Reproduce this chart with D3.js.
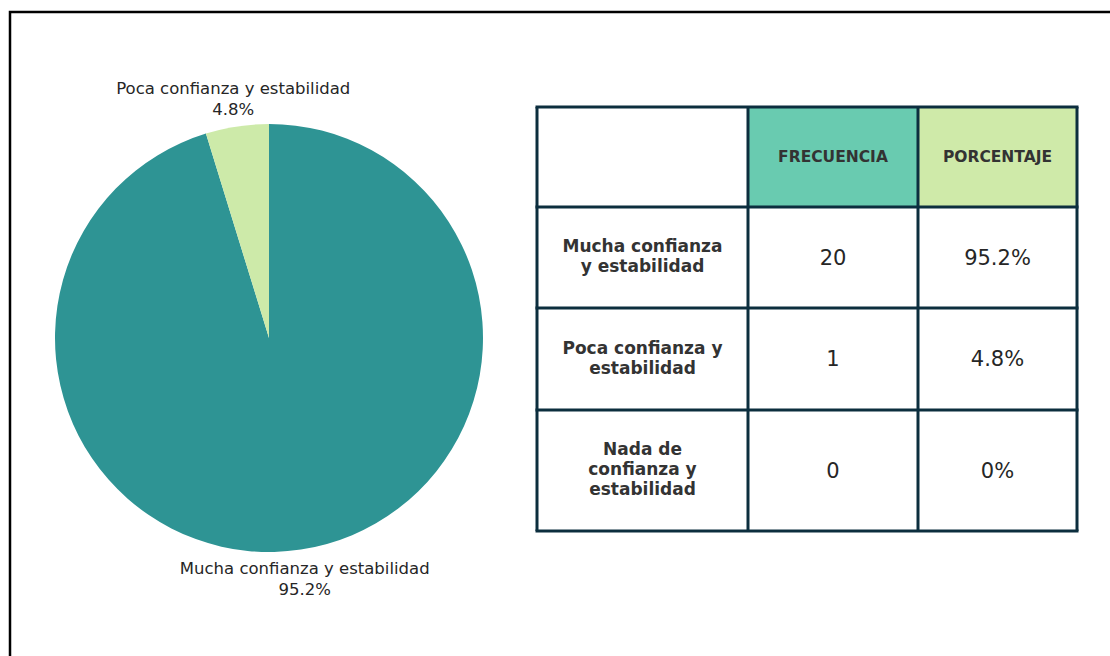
<!DOCTYPE html>
<html>
<head>
<meta charset="utf-8">
<script src="https://cdn.jsdelivr.net/npm/d3@7"></script>
<style>
  body { margin: 0; background: #fff; }
  text { font-family: "DejaVu Sans", sans-serif; fill: #262626; }
</style>
</head>
<body>
<svg id="chart" width="1110" height="656"></svg>
<script>
// data
var categories = ["Mucha confianza y estabilidad", "Poca confianza y estabilidad", "Nada de confianza y estabilidad"];
var tableLabels = [["Mucha confianza", "y estabilidad"], ["Poca confianza y", "estabilidad"], ["Nada de", "confianza y", "estabilidad"]];
var frequencies = [20, 1, 0];
var percentLabels = ["95.2%", "4.8%", "0%"];
var headers = ["", "FRECUENCIA", "PORCENTAJE"];
var sliceColors = ["#2e9494", "#cdeaa9", "#69cbb0"];
var headerFills = ["#ffffff", "#69cbb0", "#cfeaa9"];

var svg = d3.select("#chart");

// outer frame (right and bottom edges run off the picture)
svg.append("rect")
    .attr("x", 10).attr("y", 12)
    .attr("width", 1200).attr("height", 700)
    .attr("fill", "none").attr("stroke", "#000").attr("stroke-width", 2.5);

// pie
var cx = 269, cy = 338, radius = 214;
var pie = d3.pie().sort(null).value(function(d) { return d; });
var arc = d3.arc().innerRadius(0).outerRadius(radius);
var arcs = pie(frequencies);

var pieG = svg.append("g").attr("transform", "translate(" + cx + "," + cy + ")");
pieG.selectAll("path")
    .data(arcs)
    .enter().append("path")
    .attr("d", arc)
    .attr("fill", function(d, i) { return sliceColors[i]; });

// outside labels, above or below the pie
var labels = pieG.selectAll(".lbl")
    .data(arcs.filter(function(d) { return d.value > 0; }))
    .enter().append("text")
    .attr("class", "lbl")
    .attr("text-anchor", "middle")
    .style("font-size", "16.5px");

labels.each(function(d) {
    var mid = (d.startAngle + d.endAngle) / 2;
    var x = Math.sin(mid) * radius * 1.12;
    var top = Math.cos(mid) > 0;
    var y1 = top ? -radius - 36 : radius + 16;
    var t = d3.select(this);
    t.append("tspan").attr("x", x).attr("y", y1).attr("dy", "0.35em").text(categories[d.index]);
    t.append("tspan").attr("x", x).attr("y", y1 + 21).attr("dy", "0.35em").text(percentLabels[d.index]);
});

// table
var colX = [537, 748, 918, 1077];
var rowY = [107, 207, 308, 410, 531];
var stroke = "#0c2e3e";
var table = svg.append("g");

// header cells
headers.forEach(function(h, c) {
    table.append("rect")
        .attr("x", colX[c]).attr("y", rowY[0])
        .attr("width", colX[c + 1] - colX[c]).attr("height", rowY[1] - rowY[0])
        .attr("fill", headerFills[c]);
    table.append("text")
        .attr("x", (colX[c] + colX[c + 1]) / 2)
        .attr("y", (rowY[0] + rowY[1]) / 2)
        .attr("dy", "0.35em")
        .attr("text-anchor", "middle")
        .style("font-size", "15.5px").style("font-weight", "bold")
        .style("fill", "#333")
        .text(h);
});

// body rows
frequencies.forEach(function(f, r) {
    var y0 = rowY[r + 1], y1 = rowY[r + 2], ym = (y0 + y1) / 2;
    var lines = tableLabels[r];
    var lh = 20;
    var lbl = table.append("text")
        .attr("text-anchor", "middle")
        .style("font-size", "17px").style("font-weight", "bold")
        .style("fill", "#333");
    lines.forEach(function(l, i) {
        lbl.append("tspan")
            .attr("x", (colX[0] + colX[1]) / 2)
            .attr("y", ym + (i - (lines.length - 1) / 2) * lh - 1)
            .attr("dy", "0.35em")
            .text(l);
    });
    table.append("text")
        .attr("x", (colX[1] + colX[2]) / 2).attr("y", ym)
        .attr("dy", "0.35em").attr("text-anchor", "middle")
        .style("font-size", "21px")
        .text(f);
    table.append("text")
        .attr("x", (colX[2] + colX[3]) / 2).attr("y", ym)
        .attr("dy", "0.35em").attr("text-anchor", "middle")
        .style("font-size", "21px")
        .text(percentLabels[r]);
});

// grid lines
colX.forEach(function(x) {
    table.append("line")
        .attr("x1", x).attr("x2", x).attr("y1", rowY[0]).attr("y2", rowY[rowY.length - 1])
        .attr("stroke", stroke).attr("stroke-width", 3);
});
rowY.forEach(function(y) {
    table.append("line")
        .attr("x1", colX[0] - 1.5).attr("x2", colX[colX.length - 1] + 1.5).attr("y1", y).attr("y2", y)
        .attr("stroke", stroke).attr("stroke-width", 3);
});
</script>
</body>
</html>
